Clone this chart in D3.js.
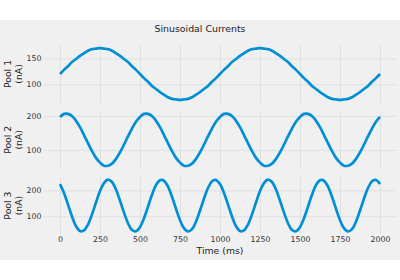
<!DOCTYPE html>
<html lang="en">
<head>
    <meta charset="UTF-8">
    <title>Sinusoidal Currents</title>
    <script src="https://d3js.org/d3.v7.min.js"></script>
    <style>
        body { margin: 0; background: #fff; }
        text { font-family: "DejaVu Sans", sans-serif; }
    </style>
</head>
<body>
<div id="chart-container"></div>

<script>
    // samples every 25 ms, 0..2000 ms (in nA)
    const sampleStep = 25;
    const xTicks = [0, 250, 500, 750, 1000, 1250, 1500, 1750, 2000];

    const pool1 = [120,128,135,143,149,155,160,165,168,169,170,169,168,165,160,155,149,143,135,128,
                   120,112,105,97,91,85,80,75,72,71,70,71,72,75,80,85,91,97,105,112,
                   120,128,135,143,149,155,160,165,168,169,170,169,168,165,160,155,149,143,135,128,
                   120,112,105,97,91,85,80,75,72,71,70,71,72,75,80,85,91,97,105,112,
                   120];
    const pool2 = [197,206,206,200,186,167,144,120,97,77,63,54,54,60,74,93,116,140,163,183,
                   197,206,206,200,186,167,144,120,97,77,63,54,54,60,74,93,116,140,163,183,
                   197,206,206,200,186,167,144,120,97,77,63,54,54,60,74,93,116,140,163,183,
                   197,206,206,200,186,167,144,120,97,77,63,54,54,60,74,93,116,140,163,183,
                   197];
    const pool3 = [224,190,145,99,62,43,45,68,107,153,197,228,241,232,203,160,114,73,47,42,
                   58,92,137,183,220,239,237,214,175,129,85,54,41,50,79,122,168,209,235,240,
                   224,190,145,99,62,43,45,68,107,153,197,228,241,232,203,160,114,73,47,42,
                   58,92,137,183,220,239,237,214,175,129,85,54,41,50,79,122,168,209,235,240,
                   224];

    const poolNames = ["Pool 1", "Pool 2", "Pool 3"];
    const poolValues = [pool1, pool2, pool3];
    const poolTicks = [[100, 150], [100, 200], [100, 200]];

    const width = 400, height = 280;
    const left = 44, right = 396;
    const panelTop = 45.5, panelHeight = 57, panelGap = 8.8;
    const lineColor = "#008fd5";

    const svg = d3.select("#chart-container")
        .append("svg")
        .attr("width", width)
        .attr("height", height);

    // figure background (grey band, white strips top and bottom)
    svg.append("rect").attr("width", width).attr("height", height).attr("fill", "#fff");
    svg.append("rect").attr("y", 20).attr("width", width).attr("height", 240).attr("fill", "#f0f0f0");

    // shared x scale with matplotlib-like 5% margins
    const x = d3.scaleLinear()
        .domain([-100, 2100])
        .range([left, right]);

    poolValues.forEach((vals, i) => {
        const top = panelTop + i * (panelHeight + panelGap);
        const bottom = top + panelHeight;

        const [lo, hi] = d3.extent(vals);
        const pad = (hi - lo) * 0.05;
        const y = d3.scaleLinear()
            .domain([lo - pad, hi + pad])
            .range([bottom, top]);

        const g = svg.append("g");

        // grid
        g.append("g")
            .attr("transform", `translate(0,${bottom})`)
            .call(d3.axisBottom(x).tickValues(xTicks).tickSize(-panelHeight).tickFormat(""))
            .call(s => s.select(".domain").remove())
            .call(s => s.selectAll("line").attr("stroke", "#e0e0e0").attr("stroke-width", 1));
        g.append("g")
            .attr("transform", `translate(${left},0)`)
            .call(d3.axisLeft(y).tickValues(poolTicks[i]).tickSize(-(right - left)).tickFormat(""))
            .call(s => s.select(".domain").remove())
            .call(s => s.selectAll("line").attr("stroke", "#e0e0e0").attr("stroke-width", 1));

        // y tick labels
        g.append("g")
            .attr("transform", `translate(${left},0)`)
            .call(d3.axisLeft(y).tickValues(poolTicks[i]).tickSize(0).tickPadding(2.5))
            .call(s => s.select(".domain").remove())
            .call(s => s.selectAll("text")
                .attr("font-family", "DejaVu Sans")
                .attr("font-size", 7.8)
                .attr("fill", "#333"));

        // x tick labels on the bottom panel only
        if (i === poolValues.length - 1) {
            g.append("g")
                .attr("transform", `translate(0,${bottom})`)
                .call(d3.axisBottom(x).tickValues(xTicks).tickSize(0).tickPadding(2.5).tickFormat(d3.format("d")))
                .call(s => s.select(".domain").remove())
                .call(s => s.selectAll("text")
                    .attr("font-family", "DejaVu Sans")
                    .attr("font-size", 7.8)
                    .attr("fill", "#333"));
        }

        // the current trace
        const line = d3.line()
            .x((d, j) => x(j * sampleStep))
            .y(d => y(d))
            .curve(d3.curveCatmullRom);

        g.append("path")
            .datum(vals)
            .attr("d", line)
            .attr("fill", "none")
            .attr("stroke", lineColor)
            .attr("stroke-width", 2.7)
            .attr("stroke-linecap", "butt");

        // y label, two lines
        const cy = (top + bottom) / 2;
        [[poolNames[i], 7.5], ["(nA)", 18]].forEach(([txt, cx]) => {
            svg.append("text")
                .attr("transform", `translate(${cx},${cy}) rotate(-90)`)
                .attr("text-anchor", "middle")
                .attr("dominant-baseline", "central")
                .attr("font-size", 9.3)
                .attr("fill", "#222")
                .text(txt);
        });
    });

    // title and x label
    svg.append("text")
        .attr("x", 200)
        .attr("y", 28)
        .attr("text-anchor", "middle")
        .attr("dominant-baseline", "central")
        .attr("font-size", 9.4)
        .attr("fill", "#222")
        .text("Sinusoidal Currents");

    svg.append("text")
        .attr("x", (left + right) / 2)
        .attr("y", 250.7)
        .attr("text-anchor", "middle")
        .attr("dominant-baseline", "central")
        .attr("font-size", 9.3)
        .attr("fill", "#222")
        .text("Time (ms)");
</script>
</body>
</html>
